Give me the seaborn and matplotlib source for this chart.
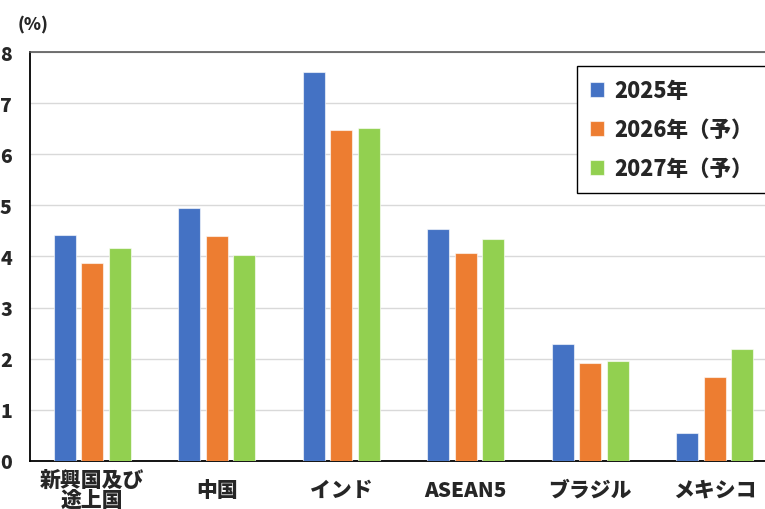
import pandas as pd
import matplotlib
matplotlib.use("Agg")
import matplotlib.pyplot as plt
from matplotlib.ticker import FixedLocator
import seaborn as sns

# values (growth rate, %)
regions = ["新興国及び\n途上国", "中国", "インド", "ASEAN5", "ブラジル", "メキシコ"]
years = ["2025年", "2026年（予）", "2027年（予）"]
growth_2025 = [4.42, 4.95, 7.62, 4.54, 2.28, 0.55]
growth_2026 = [3.87, 4.41, 6.47, 4.07, 1.91, 1.63]
growth_2027 = [4.17, 4.03, 6.52, 4.35, 1.95, 2.18]
colors = ["#4472C4", "#ED7D31", "#92D050"]

df = pd.DataFrame({
    "region": regions * 3,
    "year": [years[0]] * 6 + [years[1]] * 6 + [years[2]] * 6,
    "value": growth_2025 + growth_2026 + growth_2027,
})

sns.set_style("white")
plt.rcParams["font.family"] = ["Noto Sans CJK JP", "DejaVu Sans"]
W = "black"

fig = plt.figure(figsize=(7.65, 5.1), dpi=100)
ax = fig.add_axes([30 / 765, 0.0947, 747 / 765, 0.801])

sns.barplot(data=df, x="region", y="value", hue="year", hue_order=years,
            palette=colors, saturation=1, width=0.66, gap=0.2,
            edgecolor=(1, 1, 1, 0.6), linewidth=0.8, ax=ax, zorder=3)

ax.set_ylim(0, 8)
ax.set_xlim(-0.5, 5.5)
ax.set_xlabel("")
ax.set_ylabel("")

ax.yaxis.grid(True, color="#D9D9D9", linewidth=1, zorder=0)
ax.set_axisbelow(True)
ax.spines["right"].set_visible(False)
ax.spines["top"].set_color("#595959")
ax.spines["top"].set_linewidth(1.2)
for s in ["left", "bottom"]:
    ax.spines[s].set_color("black")
    ax.spines[s].set_linewidth(1.3)

ax.set_yticks(range(0, 9))
ax.tick_params(axis="y", which="major", direction="out", length=5, width=1,
               color="black", pad=8, labelsize=14)
for t in ax.get_yticklabels():
    t.set_fontweight(W)

# category labels centred, tick marks on the boundaries
ax.set_xticks(range(len(regions)))
ax.set_xticklabels(regions)
ax.tick_params(axis="x", which="major", length=0, pad=21, labelsize=15)
for t in ax.get_xticklabels():
    t.set_va("center")
    t.set_fontweight(W)
    t.set_linespacing(0.95)
ax.xaxis.set_minor_locator(FixedLocator([i - 0.5 for i in range(len(regions) + 1)]))
ax.tick_params(axis="x", which="minor", direction="out", length=5, width=1, color="black")

fig.text(33 / 765, 1 - 24 / 510, "(%)", ha="center", va="center",
         fontsize=12.5, fontweight=W)

leg = ax.legend(loc="upper left", bbox_to_anchor=(577 / 765, 1 - 67 / 510),
                bbox_transform=fig.transFigure, frameon=True, fancybox=False,
                edgecolor="black", framealpha=1, fontsize=15.5,
                handlelength=0.65, handleheight=0.65, handletextpad=0.5,
                labelspacing=0.75, borderpad=0.6, borderaxespad=0)
leg.get_frame().set_linewidth(1.0)
for t in leg.get_texts():
    t.set_fontweight(W)
leg.set_title(None)

fig.savefig("out.png", dpi=100)
